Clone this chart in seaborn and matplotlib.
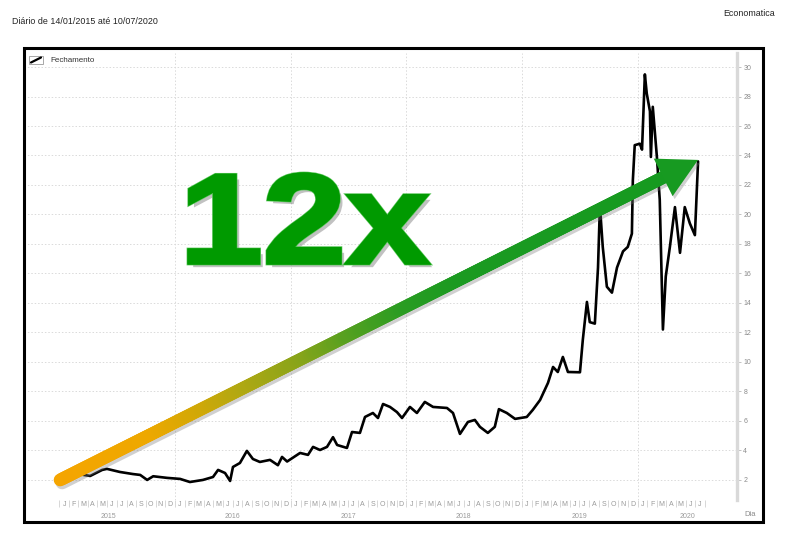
import numpy as np
import pandas as pd
import matplotlib.pyplot as plt
import matplotlib.dates as mdates
import matplotlib.patheffects as pe
import matplotlib.transforms as mtransforms
from matplotlib.collections import LineCollection
from matplotlib.colors import LinearSegmentedColormap
from matplotlib.patches import Rectangle, Polygon, PathPatch
from matplotlib.lines import Line2D
from matplotlib.textpath import TextPath
from matplotlib.font_manager import FontProperties
import seaborn as sns

# ── Data ───────────────────────────────────────────────────
datas = ['2015-01-14', '2015-02-26', '2015-04-08', '2015-05-16', '2015-05-31',
         '2015-07-11', '2015-08-21', '2015-09-13', '2015-10-05', '2015-10-24',
         '2015-12-07', '2016-01-17', '2016-02-17', '2016-03-29', '2016-04-30',
         '2016-05-16', '2016-06-07', '2016-06-23', '2016-07-02', '2016-07-24',
         '2016-08-15', '2016-09-03', '2016-09-25', '2016-10-27', '2016-11-21',
         '2016-12-04', '2016-12-20', '2017-01-30', '2017-02-24', '2017-03-12',
         '2017-04-03', '2017-04-25', '2017-05-14', '2017-05-27', '2017-06-27',
         '2017-07-13', '2017-08-07', '2017-08-23', '2017-09-17', '2017-10-03',
         '2017-10-19', '2017-11-10', '2017-12-02', '2017-12-18', '2018-01-12',
         '2018-02-03', '2018-02-28', '2018-03-26', '2018-05-09', '2018-05-28',
         '2018-06-19', '2018-07-14', '2018-08-05', '2018-08-21', '2018-09-15',
         '2018-10-07', '2018-10-20', '2018-11-14', '2018-12-10', '2019-01-16',
         '2019-02-04', '2019-02-27', '2019-03-24', '2019-04-09', '2019-04-24',
         '2019-05-10', '2019-05-26', '2019-07-03', '2019-07-12', '2019-07-25',
         '2019-08-03', '2019-08-19', '2019-08-29', '2019-09-04', '2019-09-13',
         '2019-09-26', '2019-10-12', '2019-10-28', '2019-11-16', '2019-12-01',
         '2019-12-14', '2019-12-17', '2019-12-23', '2020-01-08', '2020-01-15',
         '2020-01-24', '2020-01-30', '2020-02-09', '2020-02-12', '2020-02-18',
         '2020-03-02', '2020-03-11', '2020-03-21', '2020-03-30', '2020-04-12',
         '2020-04-28', '2020-05-14', '2020-05-29', '2020-06-14', '2020-06-30',
         '2020-07-10']
fechamento = [2.30, 2.41, 2.27, 2.68, 2.75,
              2.54, 2.40, 2.34, 2.00, 2.25,
              2.14, 2.07, 1.86, 2.00, 2.20,
              2.68, 2.47, 1.93, 2.88, 3.15,
              3.97, 3.42, 3.22, 3.36, 3.00,
              3.56, 3.25, 3.83, 3.70, 4.24,
              4.03, 4.24, 4.90, 4.37, 4.17,
              5.25, 5.19, 6.27, 6.54, 6.20,
              7.15, 6.95, 6.60, 6.20, 6.95,
              6.54, 7.29, 6.95, 6.88, 6.54,
              5.12, 5.93, 6.07, 5.60, 5.19,
              5.60, 6.80, 6.54, 6.14, 6.27,
              6.75, 7.42, 8.58, 9.66, 9.32,
              10.34, 9.32, 9.30, 11.50, 14.07,
              12.70, 12.60, 16.40, 20.60, 17.80,
              15.10, 14.70, 16.40, 17.50, 17.80,
              18.70, 22.30, 24.70, 24.80, 24.40,
              29.50, 28.20, 27.00, 23.90, 27.30,
              23.90, 21.00, 12.20, 15.80, 17.80,
              20.50, 17.40, 20.50, 19.40, 18.60,
              23.60]
y_ticks = list(range(2, 31, 2))
meses = ['J', 'F', 'M', 'A', 'M', 'J', 'J', 'A', 'S', 'O', 'N', 'D']
anos = ['2015', '2016', '2017', '2018', '2019', '2020']
anos_pos = ['2015-06-05', '2016-07-01', '2017-07-01', '2018-07-01', '2019-07-01', '2020-06-08']
anos_inicio = ['2016-01-01', '2017-01-01', '2018-01-01', '2019-01-01', '2020-01-01']

W, H = 790, 534
sns.set_theme(style='white')
plt.rcParams['font.family'] = ['Liberation Sans', 'DejaVu Sans']


def fx(x):
    return x / W


def fy(y):
    return 1 - y / H


fig = plt.figure(figsize=(W / 100, H / 100), dpi=100)
fig.patch.set_facecolor('white')
ax = fig.add_axes([fx(24), fy(500), fx(737) - fx(24), fy(53) - fy(500)])

df = pd.DataFrame({'data': pd.to_datetime(datas), 'fechamento': fechamento})
sns.lineplot(data=df, x='data', y='fechamento', ax=ax, color='black',
             linewidth=1.9, zorder=4)

ax.set_xlim(mdates.date2num(pd.Timestamp('2014-09-11')),
            mdates.date2num(pd.Timestamp('2020-11-10')))
ax.set_ylim(0.64, 30.95)
ax.set_xlabel('')
ax.set_ylabel('')

# ── Y axis on the right ────────────────────────────────────
ax.yaxis.tick_right()
ax.set_yticks(y_ticks)
ax.set_yticklabels([str(v) for v in y_ticks])
ax.tick_params(axis='y', which='major', direction='out', length=3, width=0.6,
               color='#b8b8b8', labelsize=5, labelcolor='#8a8a8a', pad=1.5,
               right=True, left=False)
for s in ['left', 'top', 'bottom']:
    ax.spines[s].set_visible(False)
ax.spines['right'].set_color('#d9d9d9')
ax.spines['right'].set_linewidth(2.4)
ax.grid(axis='y', color='#dadada', linestyle=(0, (1.5, 2)), linewidth=0.7)
ax.grid(axis='x', visible=False)

# ── X axis: month letters and years ────────────────────────
inicio_mes = pd.date_range('2015-01-01', '2020-08-01', freq='MS')
meio_mes = inicio_mes[:-1] + pd.Timedelta(days=15)
ax.set_xticks(mdates.date2num(inicio_mes))
ax.set_xticklabels([])
ax.set_xticks(mdates.date2num(meio_mes), minor=True)
ax.set_xticklabels([meses[d.month - 1] for d in meio_mes], minor=True)
ax.tick_params(axis='x', which='major', length=5, width=0.5, color='#c8c8c8',
               direction='out', bottom=True)
ax.tick_params(axis='x', which='minor', length=0, labelsize=5,
               labelcolor='#9a9a9a', pad=1, bottom=True)

trans = mtransforms.blended_transform_factory(ax.transData, ax.transAxes)
for ano, pos in zip(anos, anos_pos):
    ax.text(mdates.date2num(pd.Timestamp(pos)), -0.038, ano, transform=trans,
            ha='center', va='center', fontsize=5, color='#9a9a9a')
for d in anos_inicio:
    ax.axvline(mdates.date2num(pd.Timestamp(d)), color='#dadada',
               linestyle=(0, (1.5, 2)), linewidth=0.7, zorder=0)

# ── Gradient arrow (annotation) ────────────────────────────
fig.canvas.draw()
p0 = ax.transData.transform((mdates.date2num(pd.Timestamp('2015-01-03')), 2.0))
p1 = ax.transData.transform((mdates.date2num(df['data'].iloc[-1]), fechamento[-1] + 0.1))
u = (p1 - p0) / np.hypot(*(p1 - p0))
n = np.array([-u[1], u[0]])
shaft_end = p1 - 34 * u
pts = np.linspace(p0, shaft_end, 300)
inv = ax.transData.inverted()
pts_d = inv.transform(pts)
segs = np.stack([pts_d[:-1], pts_d[1:]], axis=1)

cmap = LinearSegmentedColormap.from_list('seta', [
    (0.00, '#f5a500'), (0.15, '#eea800'), (0.23, '#d2a806'),
    (0.30, '#b2a812'), (0.40, '#88a41a'), (0.48, '#55a020'),
    (0.57, '#2a9c22'), (0.66, '#1b9a21'), (1.00, '#169a20')])
x_img = pts[:-1, 0]
frac = (x_img - x_img.min()) / (x_img.max() - x_img.min())

sombra = mtransforms.offset_copy(ax.transData, fig=fig, x=2, y=-3, units='dots')
ax.plot(pts_d[:, 0], pts_d[:, 1], color='#7a7a7a', alpha=0.35, linewidth=9.2,
        solid_capstyle='round', transform=sombra, zorder=5, clip_on=False)
lc = LineCollection(segs, colors=cmap(frac), linewidths=9.2, capstyle='round',
                    zorder=6, clip_on=False)
ax.add_collection(lc)

head = np.array([p1, p1 - 39 * u + 21 * n, p1 - 39 * u - 21 * n])
ax.add_patch(Polygon(inv.transform(head + np.array([2, -3])), closed=True,
                     facecolor='#7a7a7a', alpha=0.35, edgecolor='none',
                     zorder=5, clip_on=False))
ax.add_patch(Polygon(inv.transform(head), closed=True, facecolor='#179a21',
                     edgecolor='none', zorder=6, clip_on=False))

# ── Big "12x" label, stretched to fill its box ────────────
tp = TextPath((0, 0), '12x', size=100,
              prop=FontProperties(family='Liberation Sans', weight='bold'))
ext = tp.get_extents()
x0, x1, y_top, y_bot = 189, 428, 174, 263
sx = (fx(x1) - fx(x0)) / ext.width
sy = (fy(y_top) - fy(y_bot)) / ext.height
fit = (mtransforms.Affine2D().translate(-ext.x0, -ext.y0).scale(sx, sy)
       .translate(fx(x0), fy(y_bot)))
fig.patches.append(PathPatch(tp, transform=fit + fig.transFigure,
                             facecolor='#009a00', edgecolor='#009a00',
                             linewidth=2.2, zorder=10,
                             path_effects=[pe.SimplePatchShadow(offset=(3, -3), shadow_rgbFace='#777777', alpha=0.45),
                                           pe.Stroke(linewidth=3.4, foreground='#55c455'),
                                           pe.Stroke(linewidth=2.2, foreground='#009a00'),
                                           pe.Normal()]))

# ── Frame, header, legend ──────────────────────────────────
fig.patches.append(Rectangle((fx(24), fy(522)), fx(763) - fx(24), fy(48) - fy(522),
                             transform=fig.transFigure, fill=False,
                             edgecolor='black', linewidth=2.2, zorder=20))
fig.text(fx(12), fy(22), 'Diário de 14/01/2015 até 10/07/2020', fontsize=6.4,
         color='#222222', ha='left', va='center')
fig.text(fx(775), fy(13), 'Economatica', fontsize=6.4, color='#222222',
         ha='right', va='center')
fig.text(fx(750), fy(515), 'Dia', fontsize=5.5, color='#8a8a8a',
         ha='center', va='center')

fig.patches.append(Rectangle((fx(29), fy(64)), fx(43) - fx(29), fy(56) - fy(64),
                             transform=fig.transFigure, facecolor='white',
                             edgecolor='#9a9a9a', linewidth=0.6, zorder=21))
fig.lines.append(Line2D([fx(31), fx(41)], [fy(62.5), fy(57.5)], color='black',
                        linewidth=1.6, transform=fig.transFigure, zorder=22))
fig.text(fx(50), fy(60), 'Fechamento', fontsize=5.8, color='#333333',
         ha='left', va='center')

plt.savefig('out.png', dpi=100)
